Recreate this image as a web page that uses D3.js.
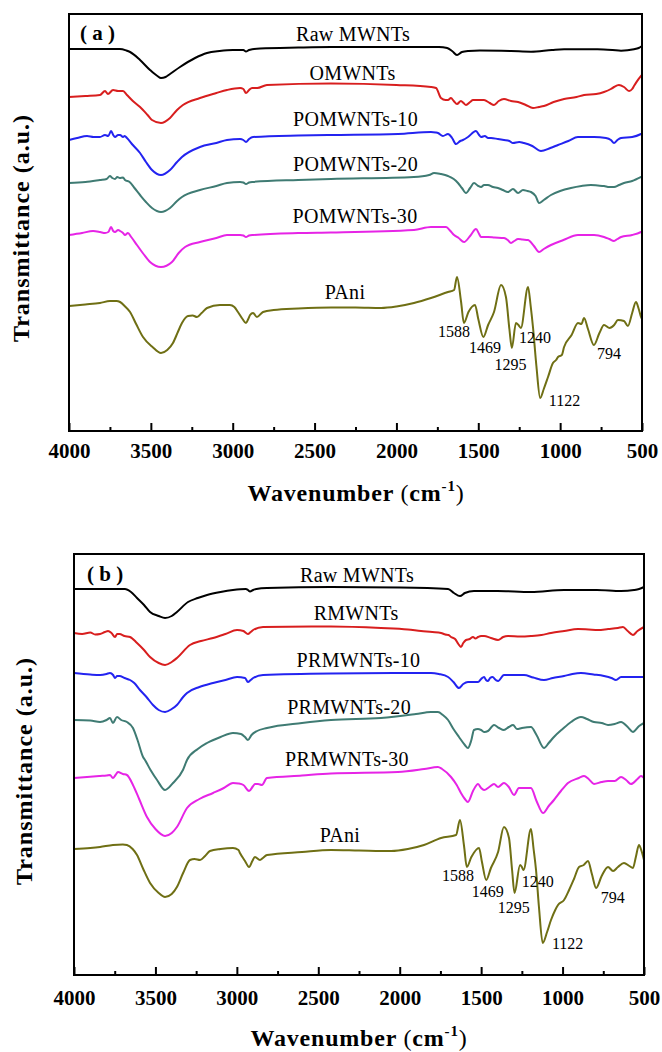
<!DOCTYPE html>
<html>
<head>
<meta charset="utf-8">
<script src="https://cdn.jsdelivr.net/npm/d3@7"></script>
<style>
  html, body { margin: 0; padding: 0; background: #ffffff; }
  svg { display: block; }
</style>
</head>
<body>
<svg id="chart" width="662" height="1052"></svg>
<script>
// ---------------- data ----------------
// wavenumber (cm-1) ticks
const majorTicks = [4000, 3500, 3000, 2500, 2000, 1500, 1000, 500];
const minorTicks = [3750, 3250, 2750, 2250, 1750, 1250, 750];

const namesA = ["Raw MWNTs", "OMWNTs", "POMWNTs-10", "POMWNTs-20", "POMWNTs-30", "PAni"];
const namesB = ["Raw MWNTs", "RMWNTs", "PRMWNTs-10", "PRMWNTs-20", "PRMWNTs-30", "PAni"];
const seriesColors = ["#000000", "#d81e1e", "#2323f0", "#3f7b73", "#e624e6", "#6f6f14"];
const peakLabels = ["1588", "1469", "1295", "1240", "1122", "794"];

// spectra: [wavenumber, transmittance (a.u., stacked)]
const rawA = [[4000,38.2],[3690,38.2],[3650,38.05],[3627,37.9],[3566,37.1],[3505,36.1],[3460,35.5],[3438,35.3],[3410,35.4],[3383,35.7],[3322,36.4],[3230,37.3],[3157,37.8],[3080,38.0],[3000,38.1],[2935,38.1],[2919,37.95],[2900,38.1],[2833,38.25],[2600,38.35],[2400,38.4],[1740,38.4],[1690,38.3],[1660,38.0],[1630,37.6],[1600,37.9],[1560,38.0],[1490,38.05],[1300,38.0],[1178,37.93],[1050,38.1],[976,38.17],[772,38.17],[680,38.1],[628,38.03],[549,38.17],[520,38.3],[500,38.5]];

const omwntA = [[4000,33.4],[3900,33.5],[3811,33.6],[3780,34.0],[3762,33.7],[3731,34.1],[3700,34.0],[3670,34.0],[3646,33.6],[3610,33.0],[3566,32.4],[3520,31.6],[3493,31.1],[3438,30.8],[3383,31.3],[3340,32.1],[3304,32.6],[3200,33.3],[3100,33.8],[3035,34.1],[2955,34.3],[2935,34.2],[2919,33.8],[2900,34.1],[2882,34.3],[2850,34.3],[2791,34.6],[2400,34.75],[2000,34.6],[1789,34.4],[1758,34.3],[1728,33.3],[1700,33.1],[1685,33.1],[1667,33.3],[1650,33.0],[1630,32.7],[1606,33.0],[1590,32.8],[1575,32.6],[1550,32.9],[1532,33.1],[1465,33.1],[1430,32.8],[1404,32.6],[1375,33.0],[1343,33.2],[1300,33.0],[1257,32.9],[1210,32.6],[1166,32.3],[1130,32.4],[1099,32.5],[1040,32.9],[976,33.2],[900,33.4],[854,33.6],[780,33.7],[732,33.9],[690,34.2],[671,34.4],[641,34.6],[610,34.4],[579,34.0],[560,34.2],[549,34.5],[506,35.5],[500,35.6]];

const pomwnt10A = [[4000,29.1],[3950,29.3],[3890,29.5],[3850,29.4],[3811,29.4],[3780,29.6],[3760,29.5],[3743,30.0],[3730,29.6],[3719,29.4],[3700,29.6],[3688,29.6],[3670,29.4],[3660,29.5],[3646,29.3],[3610,28.6],[3566,27.8],[3530,26.9],[3493,26.1],[3438,25.6],[3383,26.1],[3340,26.9],[3310,27.4],[3200,28.4],[3100,28.8],[3035,29.1],[2955,29.2],[2935,29.1],[2919,28.9],[2900,29.2],[2876,29.4],[2600,29.55],[2400,29.6],[1990,29.7],[1789,29.9],[1760,29.85],[1746,29.8],[1716,29.5],[1685,29.7],[1660,29.3],[1636,28.7],[1610,29.0],[1594,29.1],[1563,29.4],[1514,30.0],[1495,29.6],[1483,29.4],[1460,29.5],[1440,29.3],[1422,29.3],[1380,29.2],[1343,29.1],[1310,29.0],[1288,28.8],[1250,28.9],[1221,28.8],[1170,28.5],[1117,28.0],[1060,28.3],[1013,28.6],[950,29.0],[891,29.4],[840,29.4],[793,29.4],[720,29.3],[690,29.1],[671,28.8],[650,29.1],[628,29.3],[560,29.4],[506,29.7],[500,29.75]];

const pomwnt20A = [[4000,24.8],[3900,24.9],[3811,25.1],[3770,25.2],[3750,25.5],[3735,25.3],[3719,25.2],[3705,25.4],[3690,25.3],[3670,25.35],[3658,25.1],[3630,24.9],[3600,24.3],[3566,23.6],[3530,22.9],[3493,22.3],[3438,21.9],[3383,22.3],[3340,23.0],[3310,23.4],[3200,24.1],[3100,24.5],[3035,24.8],[2955,24.9],[2935,24.85],[2919,24.7],[2900,24.85],[2880,24.9],[2600,25.1],[2400,25.2],[1893,25.4],[1800,25.6],[1770,25.8],[1730,25.7],[1685,25.5],[1650,25.2],[1624,24.8],[1600,24.3],[1575,23.8],[1550,24.3],[1526,24.8],[1500,24.5],[1483,24.4],[1465,24.6],[1441,24.6],[1410,24.4],[1380,24.3],[1350,24.1],[1319,23.9],[1288,24.2],[1257,23.8],[1227,24.1],[1200,24.0],[1178,23.9],[1150,23.5],[1129,22.8],[1100,23.1],[1056,23.6],[1000,24.0],[934,24.3],[870,24.5],[812,24.6],[770,24.55],[732,24.5],[700,24.4],[671,24.4],[640,24.6],[610,24.8],[560,25.0],[506,25.4],[500,25.45]];

const pomwnt30A = [[4000,19.6],[3920,19.8],[3853,20.0],[3810,19.9],[3780,19.8],[3760,19.9],[3743,20.4],[3730,20.0],[3719,19.9],[3700,20.1],[3688,20.0],[3670,19.8],[3658,19.6],[3640,19.8],[3620,19.4],[3585,18.6],[3545,17.7],[3505,16.9],[3438,16.4],[3371,16.9],[3330,17.8],[3291,18.4],[3200,18.9],[3100,19.3],[3035,19.6],[2955,19.6],[2935,19.55],[2919,19.4],[2900,19.55],[2876,19.6],[2600,19.8],[2400,19.85],[1893,20.1],[1789,20.4],[1740,20.4],[1697,20.4],[1670,20.0],[1648,19.6],[1620,19.3],[1587,18.9],[1550,19.5],[1514,20.2],[1495,19.7],[1483,19.4],[1441,19.4],[1400,19.35],[1343,19.3],[1320,19.1],[1300,18.8],[1280,19.0],[1257,19.2],[1230,19.15],[1196,19.1],[1160,18.5],[1129,17.9],[1100,18.2],[1056,18.6],[980,19.1],[891,19.6],[793,19.6],[732,19.4],[700,19.2],[671,19.0],[650,19.2],[628,19.4],[560,19.6],[506,19.9],[500,19.95]];

const paniA = [[4000,12.5],[3900,12.65],[3811,12.8],[3750,13.0],[3710,13.0],[3688,12.9],[3660,12.5],[3627,11.9],[3590,10.7],[3548,9.4],[3490,8.4],[3438,7.8],[3400,8.1],[3365,8.8],[3335,9.9],[3310,10.8],[3273,11.5],[3245,11.55],[3218,11.4],[3190,11.8],[3157,12.3],[3078,12.6],[3017,12.6],[2990,12.4],[2968,11.9],[2940,11.2],[2919,10.8],[2905,11.2],[2894,11.6],[2876,11.8],[2852,11.4],[2815,11.9],[2750,12.1],[2600,12.25],[2400,12.35],[2250,12.35],[2094,12.3],[2000,12.45],[1893,12.8],[1789,13.3],[1685,13.9],[1648,14.1],[1630,15.4],[1605,12.9],[1588,10.8],[1560,11.9],[1520,12.6],[1500,11.2],[1469,9.4],[1440,10.6],[1404,11.9],[1361,14.6],[1331,13.4],[1310,10.2],[1295,8.3],[1270,10.8],[1255,10.6],[1240,10.3],[1196,14.4],[1180,12.5],[1166,10.4],[1145,6.5],[1122,3.3],[1100,4.2],[1074,5.4],[1044,6.8],[1025,7.1],[1013,7.4],[990,7.6],[976,8.4],[930,9.6],[891,10.8],[870,10.7],[854,11.3],[830,10.2],[794,8.6],[760,9.8],[732,10.6],[698,10.3],[670,10.6],[647,11.1],[610,11.0],[586,10.5],[560,11.8],[537,12.9],[520,12.2],[506,11.4],[500,11.2]];

const rawB = [[4000,38.6],[3800,38.6],[3687,38.6],[3650,38.3],[3613,37.7],[3570,37.0],[3533,36.3],[3480,35.9],[3441,35.7],[3400,35.9],[3368,36.3],[3300,37.3],[3240,37.7],[3183,38.0],[3100,38.3],[3024,38.5],[2945,38.6],[2932,38.5],[2919,38.35],[2900,38.5],[2880,38.6],[2815,38.7],[2422,38.8],[2000,38.75],[1703,38.6],[1667,38.2],[1630,37.9],[1600,38.2],[1544,38.4],[1400,38.4],[1194,38.3],[991,38.5],[790,38.5],[641,38.4],[561,38.5],[530,38.6],[500,38.8]];

const rmwntB = [[4000,34.2],[3950,34.1],[3900,34.25],[3870,34.05],[3840,34.1],[3810,34.3],[3791,34.4],[3770,34.2],[3748,33.8],[3735,34.1],[3720,34.1],[3690,33.9],[3656,33.8],[3613,33.2],[3570,32.5],[3533,31.8],[3480,31.2],[3441,31.0],[3400,31.3],[3368,31.7],[3288,33.0],[3220,33.4],[3146,33.7],[3070,34.1],[2999,34.5],[2960,34.4],[2932,34.1],[2915,34.3],[2900,34.5],[2839,34.8],[2422,34.85],[2115,34.7],[1950,34.55],[1869,34.4],[1800,34.3],[1746,34.2],[1720,34.05],[1700,34.0],[1685,33.8],[1660,33.6],[1640,33.1],[1624,32.8],[1610,33.2],[1593,33.5],[1570,33.6],[1550,33.8],[1535,33.65],[1519,33.8],[1500,33.9],[1482,33.9],[1440,33.7],[1396,33.5],[1365,33.8],[1335,33.9],[1260,33.85],[1194,33.9],[1130,34.0],[1071,34.2],[990,34.4],[905,34.6],[840,34.55],[782,34.5],[720,34.6],[660,34.7],[629,34.8],[600,34.4],[568,34.0],[540,34.4],[500,34.8]];

const prmwnt10B = [[4000,30.2],[3900,30.05],[3840,30.0],[3800,30.1],[3779,30.2],[3760,30.0],[3748,29.7],[3735,29.9],[3720,29.9],[3690,29.7],[3656,29.5],[3630,29.2],[3595,28.5],[3555,27.8],[3515,27.0],[3480,26.5],[3441,26.3],[3400,26.6],[3368,27.0],[3330,27.8],[3306,28.2],[3230,28.8],[3146,29.2],[3070,29.5],[2999,29.8],[2950,29.7],[2932,29.3],[2915,29.5],[2900,29.7],[2839,30.0],[2422,30.15],[1808,30.2],[1760,30.1],[1703,29.8],[1670,29.3],[1636,28.7],[1610,29.1],[1581,29.3],[1550,29.3],[1519,29.3],[1500,29.6],[1482,29.8],[1470,29.5],[1458,29.4],[1445,29.7],[1430,29.8],[1410,29.5],[1396,29.4],[1360,30.0],[1300,30.0],[1237,30.0],[1180,29.75],[1114,29.5],[1060,29.7],[991,29.9],[940,30.1],[887,30.2],[810,30.05],[746,29.9],[700,29.7],[672,29.5],[641,29.8],[560,29.8],[500,29.8]];

const prmwnt20B = [[4000,25.5],[3900,25.45],[3840,25.3],[3800,25.5],[3779,25.7],[3761,25.2],[3736,25.8],[3710,25.5],[3675,25.3],[3638,24.7],[3610,23.5],[3576,21.8],[3564,21.5],[3530,20.5],[3490,19.5],[3441,18.5],[3392,19.2],[3331,20.5],[3306,21.5],[3240,22.6],[3183,23.2],[3100,23.8],[3024,24.2],[2975,24.1],[2950,23.8],[2932,23.5],[2910,24.0],[2876,24.4],[2815,24.7],[2600,25.2],[2422,25.5],[2115,25.7],[1900,26.1],[1808,26.3],[1765,26.3],[1735,26.0],[1703,25.5],[1670,24.6],[1636,23.8],[1600,23.0],[1581,22.7],[1560,23.5],[1544,24.5],[1520,24.6],[1500,24.5],[1480,24.3],[1458,24.4],[1421,25.0],[1390,24.7],[1360,24.5],[1330,24.8],[1304,25.0],[1280,24.6],[1250,24.7],[1194,24.8],[1160,24.0],[1114,22.7],[1085,23.2],[1053,23.8],[1000,24.6],[948,25.3],[887,25.8],[850,25.6],[807,25.3],[760,25.2],[721,25.0],[680,25.1],[641,25.3],[600,24.8],[568,24.3],[530,24.9],[500,25.2]];

const prmwnt30B = [[4000,19.7],[3920,19.8],[3840,19.9],[3800,19.95],[3779,20.0],[3761,19.7],[3745,20.0],[3730,20.3],[3700,20.1],[3675,20.0],[3638,19.0],[3600,17.6],[3552,15.8],[3500,14.6],[3441,13.9],[3400,14.2],[3368,14.8],[3306,16.7],[3230,17.6],[3146,18.2],[3080,18.7],[3024,19.2],[2990,19.15],[2960,19.0],[2925,18.4],[2900,18.9],[2889,19.1],[2870,19.1],[2846,19.0],[2815,19.7],[2600,19.95],[2422,20.15],[2011,20.3],[1850,20.6],[1765,20.8],[1740,20.6],[1685,19.8],[1650,19.0],[1624,18.2],[1600,17.6],[1581,17.3],[1550,18.4],[1519,19.1],[1500,18.7],[1482,18.5],[1450,18.8],[1421,19.1],[1396,18.8],[1360,19.2],[1330,18.8],[1298,18.0],[1268,18.7],[1230,18.7],[1194,18.7],[1160,17.4],[1120,16.2],[1085,16.9],[1053,17.5],[1010,18.4],[967,19.2],[900,19.7],[868,19.9],[840,19.6],[807,19.1],[760,19.3],[721,19.4],[680,19.4],[641,19.8],[610,19.5],[580,19.1],[540,19.6],[518,19.9],[500,19.7]];

const paniB = [[4000,12.6],[3900,12.7],[3840,12.8],[3761,13.0],[3700,13.05],[3675,13.0],[3640,12.6],[3613,12.0],[3575,10.6],[3533,9.2],[3480,8.2],[3441,7.8],[3400,8.1],[3368,8.8],[3330,10.2],[3288,11.5],[3260,11.6],[3226,11.5],[3195,11.9],[3165,12.4],[3100,12.6],[3024,12.7],[2990,12.5],[2981,12.2],[2950,11.4],[2925,10.8],[2905,11.4],[2889,11.8],[2858,11.5],[2840,11.7],[2815,12.0],[2600,12.3],[2422,12.5],[2250,12.45],[2053,12.4],[1950,12.6],[1851,13.0],[1746,13.7],[1654,14.0],[1630,15.5],[1605,12.9],[1588,10.8],[1560,11.8],[1513,12.7],[1495,11.3],[1469,9.5],[1440,10.7],[1396,12.3],[1360,14.8],[1329,13.7],[1310,10.5],[1295,8.2],[1261,11.0],[1250,10.8],[1240,10.5],[1194,14.6],[1178,12.6],[1163,10.5],[1145,6.8],[1122,3.2],[1095,4.3],[1071,5.5],[1045,6.5],[1028,7.0],[991,7.5],[960,8.5],[930,9.6],[899,10.8],[870,11.0],[844,11.4],[820,10.1],[794,8.7],[760,9.9],[721,10.8],[690,10.4],[660,10.8],[623,11.2],[590,10.9],[568,10.7],[550,11.8],[531,13.0],[515,12.4],[500,11.5]];

// ---------------- layout ----------------
const SERIF = "'Liberation Serif', 'Times New Roman', Times, serif";

const panels = [
  {
    tag: "( a )", tagAt: [3933, 39.1],
    names: namesA,
    series: [rawA, omwntA, pomwnt10A, pomwnt20A, pomwnt30A, paniA],
    nameAt: [[2265, 39.0], [2268, 35.1], [2250, 30.5], [2250, 26.0], [2253, 20.8], [2314, 13.2]],
    peakAt: [[1648, 9.4], [1459, 7.83], [1303, 6.1], [1154, 8.8], [973, 2.55], [702, 7.2]],
    box: { left: 69, top: 14, right: 642, bottom: 431 }, yMax: 41.7,
    tickLabelDy: 27, xTitleDy: 70, xTitleX: 356, yTitle: { x: 29, y: 228 }
  },
  {
    tag: "( b )", tagAt: [3920, 39.4],
    names: namesB,
    series: [rawB, rmwntB, prmwnt10B, prmwnt20B, prmwnt30B, paniB],
    nameAt: [[2262, 39.3], [2268, 35.5], [2253, 30.8], [2311, 26.1], [2324, 20.9], [2367, 13.3]],
    peakAt: [[1642, 9.45], [1460, 7.8], [1300, 6.2], [1153, 8.85], [969, 2.6], [692, 7.25]],
    box: { left: 74, top: 554, right: 644, bottom: 975 }, yMax: 42.1,
    tickLabelDy: 30, xTitleDy: 71, xTitleX: 359, yTitle: { x: 32, y: 771 }
  }
];

const svg = d3.select("#chart");

panels.forEach(p => {
  const b = p.box;
  const x = d3.scaleLinear().domain([4000, 500]).range([b.left, b.right]);
  const y = d3.scaleLinear().domain([0, p.yMax]).range([b.bottom, b.top]);
  const g = svg.append("g");

  // spectra
  const line = d3.line()
    .x(d => x(d[0]))
    .y(d => y(d[1]))
    .curve(d3.curveMonotoneX);

  g.selectAll("path.spectrum")
    .data(p.series)
    .join("path")
    .attr("class", "spectrum")
    .attr("d", line)
    .attr("fill", "none")
    .attr("stroke", (d, i) => seriesColors[i])
    .attr("stroke-width", 2)
    .attr("stroke-linejoin", "round");

  // minor ticks
  const minorAxis = d3.axisBottom(x).tickValues(minorTicks).tickSizeInner(-4).tickSizeOuter(0).tickFormat("");
  g.append("g").attr("transform", `translate(0,${b.bottom})`).call(minorAxis)
    .call(a => a.select(".domain").remove())
    .call(a => a.selectAll(".tick line").attr("stroke", "#000").attr("stroke-width", 2));

  // major ticks and labels
  const majorAxis = d3.axisBottom(x).tickValues(majorTicks).tickSizeInner(-8).tickSizeOuter(0).tickFormat(d3.format("d"));
  g.append("g").attr("transform", `translate(0,${b.bottom})`).call(majorAxis)
    .call(a => a.select(".domain").remove())
    .call(a => a.selectAll(".tick line").attr("stroke", "#000").attr("stroke-width", 2))
    .call(a => a.selectAll(".tick text")
      .attr("y", p.tickLabelDy).attr("dy", 0)
      .attr("fill", "#000")
      .style("font-family", SERIF).style("font-size", "21px").style("font-weight", "bold"));

  // frame
  g.append("rect")
    .attr("x", b.left).attr("y", b.top)
    .attr("width", b.right - b.left).attr("height", b.bottom - b.top)
    .attr("fill", "none").attr("stroke", "#000").attr("stroke-width", 2);

  // panel tag
  g.append("text")
    .attr("x", x(p.tagAt[0])).attr("y", y(p.tagAt[1]))
    .style("font-family", SERIF).style("font-size", "21px").style("font-weight", "bold")
    .text(p.tag);

  // series names
  g.selectAll("text.name")
    .data(p.names)
    .join("text")
    .attr("class", "name")
    .attr("x", (d, i) => x(p.nameAt[i][0]))
    .attr("y", (d, i) => y(p.nameAt[i][1]))
    .attr("text-anchor", "middle")
    .style("font-family", SERIF).style("font-size", "20px").style("letter-spacing", "0.3px")
    .text(d => d);

  // peak positions on the PAni spectrum
  g.selectAll("text.peak")
    .data(peakLabels)
    .join("text")
    .attr("class", "peak")
    .attr("x", (d, i) => x(p.peakAt[i][0]))
    .attr("y", (d, i) => y(p.peakAt[i][1]))
    .attr("text-anchor", "middle")
    .style("font-family", SERIF).style("font-size", "16px")
    .text(d => d);

  // x title
  const xt = g.append("text")
    .attr("x", p.xTitleX).attr("y", b.bottom + p.xTitleDy)
    .attr("text-anchor", "middle")
    .style("font-family", SERIF).style("font-size", "24px").style("font-weight", "bold")
    .style("letter-spacing", "0.8px");
  xt.append("tspan").text("Wavenumber ");
  xt.append("tspan").style("font-weight", "normal").text("(");
  xt.append("tspan").text("cm");
  xt.append("tspan").attr("dy", -10).style("font-size", "15px").text("-1");
  xt.append("tspan").attr("dy", 10).style("font-weight", "normal").text(")");

  // y title
  g.append("text")
    .attr("transform", `translate(${p.yTitle.x},${p.yTitle.y}) rotate(-90)`)
    .attr("text-anchor", "middle")
    .style("font-family", SERIF).style("font-size", "24px").style("font-weight", "bold")
    .style("letter-spacing", "1px")
    .text("Transmittance (a.u.)");
});
</script>
</body>
</html>
